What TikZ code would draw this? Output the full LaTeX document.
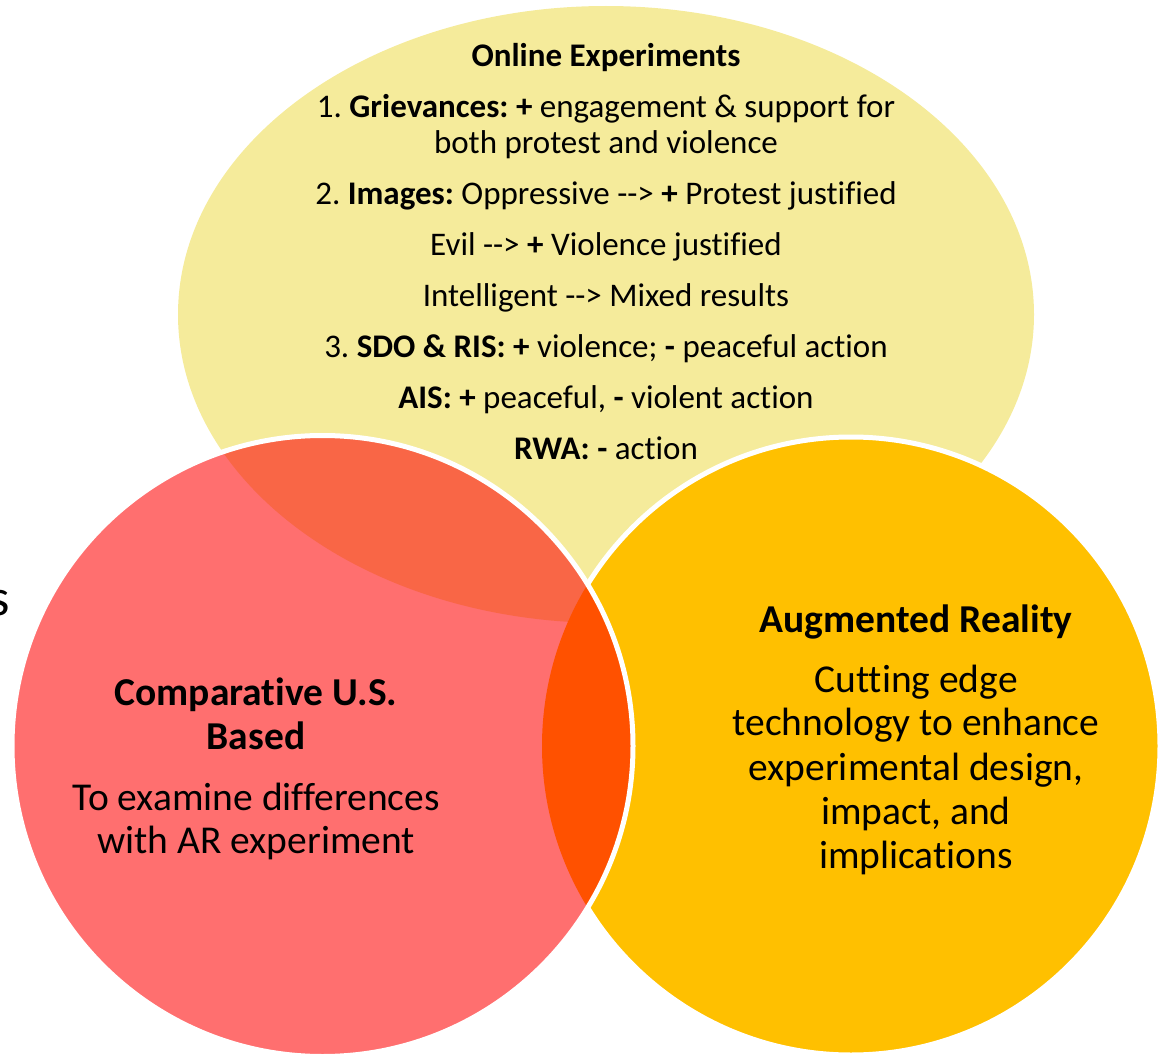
\documentclass[tikz,border=0pt]{standalone}
\usepackage{fontspec}
\setmainfont{Carlito}[Ligatures={TeX,NoCommon}]
\frenchspacing
\definecolor{yel}{HTML}{F5EB9B}
\definecolor{redc}{HTML}{FF6F6F}
\definecolor{orgc}{HTML}{FFC000}
\definecolor{ovl}{HTML}{F96646}
\definecolor{lens}{HTML}{FF5100}
\tikzset{
  ytxt/.style={font=\fontsize{33}{36}\selectfont, anchor=base, inner sep=0pt, text=black},
  btxt/.style={font=\fontsize{39.5}{44}\selectfont, anchor=base, inner sep=0pt, text=black},
  wborder/.style={draw=white, line width=5pt}
}
\begin{document}
\begin{tikzpicture}[x=1pt,y=-1pt]
\useasboundingbox (0,0) rectangle (1163,1054);
% yellow ellipse
\fill[yel] (606,314.5) ellipse [x radius=428pt, y radius=308.5pt];
% orange circle with white border
\filldraw[fill=orgc, wborder] (851,746) circle [radius=309pt];
% red circle
\fill[redc] (322.5,746) circle [radius=310.5pt];
% overlaps inside the red circle
\begin{scope}
  \clip (322.5,746) circle [radius=310.5pt];
  \fill[ovl] (606,314.5) ellipse [x radius=428pt, y radius=308.5pt];
  \fill[lens] (851,746) circle [radius=309pt];
\end{scope}
\draw[wborder] (322.5,746) circle [radius=310.5pt];

% partial letter at the left edge
\node[font=\fontsize{52}{56}\selectfont, anchor=base east, inner sep=0pt] (s) at (10,615) {s};

% yellow texts
\node[ytxt] (y0) at (606,66.5) {\bfseries Online Experiments};
\node[ytxt] (y1) at (606,117.5) {1. \textbf{Grievances: +} engagement \& support for};
\node[ytxt] (y2) at (606,153.5) {both protest and violence};
\node[ytxt] (y3) at (606,204.5) {2. \textbf{Images:} Oppressive -{}-{}> \textbf{+} Protest justified};
\node[ytxt] (y4) at (606,255.5) {Evil -{}-{}> \textbf{+} Violence justified};
\node[ytxt] (y5) at (606,306.5) {Intelligent -{}-{}> Mixed results};
\node[ytxt] (y6) at (606,357.5) {3. \textbf{SDO \& RIS: +} violence; \textbf{-} peaceful action};
\node[ytxt] (y7) at (606,408.5) {\textbf{AIS: +} peaceful, \textbf{-} violent action};
\node[ytxt] (y8) at (606,459.5) {\textbf{RWA: -} action};

% red texts
\node[btxt] (r0) at (256,705.6) {\bfseries Comparative U.S.};
\node[btxt] (r1) at (256,749.6) {\bfseries Based};
\node[btxt] (r2) at (256,810.6) {To examine differences};
\node[btxt] (r3) at (256,853.6) {with AR experiment};

% orange texts
\node[btxt] (o0) at (916,632.6) {\bfseries Augmented Reality};
\node[btxt] (o1) at (916,692.6) {Cutting edge};
\node[btxt] (o2) at (916,735.6) {technology to enhance};
\node[btxt] (o3) at (916,780.6) {experimental design,};
\node[btxt] (o4) at (916,824.6) {impact, and};
\node[btxt] (o5) at (916,868.6) {implications};
\end{tikzpicture}
\end{document}
